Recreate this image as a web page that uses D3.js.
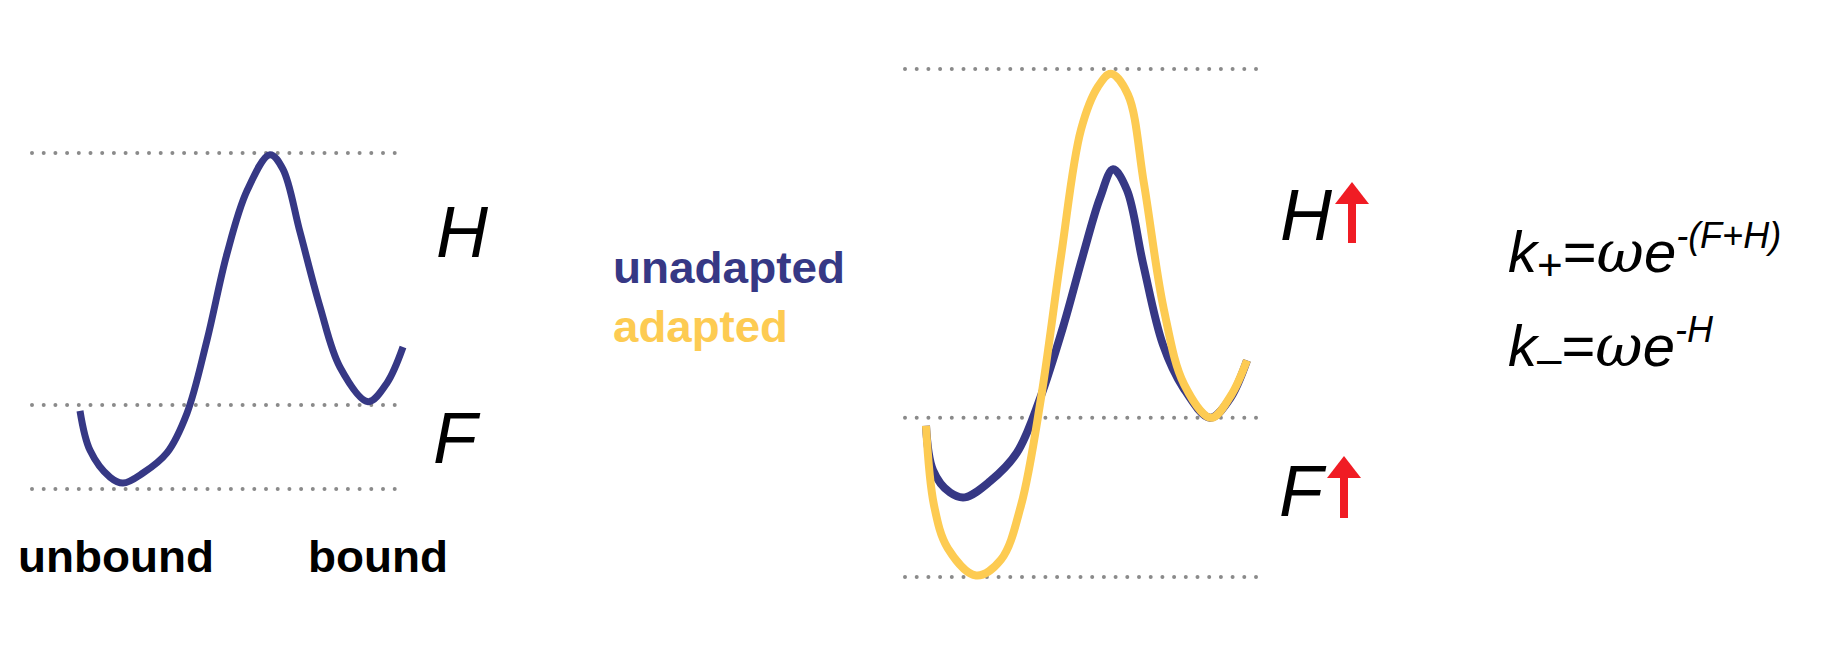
<!DOCTYPE html>
<html>
<head>
<meta charset="utf-8">
<script src="https://cdn.jsdelivr.net/npm/d3@7"></script>
<style>
  body { margin: 0; background: #fff; }
  text { font-family: "Liberation Sans", Arial, sans-serif; }
</style>
</head>
<body>
<svg id="chart" width="1836" height="646"></svg>
<script>
// reaction coordinate (0..1) and free energy
const boundX = [0, 0.031, 0.093, 0.133, 0.195, 0.269, 0.331, 0.393, 0.455, 0.517, 0.588, 0.628, 0.681, 0.743, 0.805, 0.892, 0.95, 1]
const boundE = [0.93, 0.46, 0.14, 0.07, 0.19, 0.43, 0.9, 1.77, 2.8, 3.55, 3.98, 3.81, 3.06, 2.17, 1.45, 1.04, 1.26, 1.69]

const unadaptedX = [0, 0.022, 0.075, 0.121, 0.199, 0.283, 0.355, 0.427, 0.489, 0.542, 0.583, 0.626, 0.676, 0.738, 0.801, 0.885, 0.947, 1]
const unadaptedE = [0.95, 0.67, 0.53, 0.5, 0.6, 0.78, 1.12, 1.57, 2.02, 2.38, 2.56, 2.43, 1.97, 1.46, 1.19, 1.0, 1.12, 1.36]

const adaptedX = [0, 0.025, 0.068, 0.156, 0.234, 0.296, 0.358, 0.421, 0.483, 0.536, 0.576, 0.629, 0.679, 0.741, 0.804, 0.888, 0.95, 1]
const adaptedE = [0.95, 0.45, 0.18, 0.01, 0.11, 0.45, 1.12, 2.02, 2.81, 3.08, 3.16, 3.03, 2.47, 1.68, 1.21, 1.0, 1.14, 1.36]

const leftLevels = [0, 1, 4]
const rightLevels = [0, 1, 3.19]
const legendLabels = ['unadapted', 'adapted']
const stateLabels = ['unbound', 'bound']

const BLUE = '#363885'
const YELLOW = '#fdcb52'

const svg = d3.select('#chart')

const zip = (xs, es) => xs.map((x, i) => ({ x, e: es[i] }))

const drawPanel = (opts) => {
  const { x, y, levels, lineX, curves } = opts
  svg.append('g').selectAll('line')
    .data(levels)
    .enter()
    .append('line')
    .attr('x1', lineX[0])
    .attr('x2', lineX[1])
    .attr('y1', d => y(d))
    .attr('y2', d => y(d))
    .attr('stroke', '#8a8a8a')
    .attr('stroke-width', 4)
    .attr('stroke-linecap', 'round')
    .attr('stroke-dasharray', '0 11.7')

  const line = d3.line()
    .x(d => x(d.x))
    .y(d => y(d.e))
    .curve(d3.curveCatmullRom.alpha(0.5))

  curves.forEach(c => {
    svg.append('path')
      .attr('d', line(c.data))
      .attr('fill', 'none')
      .attr('stroke', c.color)
      .attr('stroke-width', c.width)
      .attr('stroke-linejoin', 'round')
  })
}

// left panel
const xL = d3.scaleLinear().domain([0, 1]).range([80, 403])
const yL = d3.scaleLinear().domain([0, 4]).range([489, 153])
drawPanel({
  x: xL, y: yL, levels: leftLevels, lineX: [32, 396],
  curves: [{ data: zip(boundX, boundE), color: BLUE, width: 7 }],
})

// right panel
const xR = d3.scaleLinear().domain([0, 1]).range([926, 1247])
const yR = d3.scaleLinear().domain([0, 3.19]).range([577, 69])
drawPanel({
  x: xR, y: yR, levels: rightLevels, lineX: [905, 1267],
  curves: [
    { data: zip(unadaptedX, unadaptedE), color: BLUE, width: 8 },
    { data: zip(adaptedX, adaptedE), color: YELLOW, width: 8 },
  ],
})

// labels
const italic = (x, y, txt, size) => svg.append('text')
  .attr('x', x).attr('y', y)
  .attr('font-size', size)
  .attr('font-style', 'italic')
  .text(txt)

italic(436, 257, 'H', 72)
italic(433, 463, 'F', 72)
italic(1280, 240, 'H', 72)
italic(1279, 516, 'F', 72)

svg.selectAll('.state')
  .data(stateLabels)
  .enter()
  .append('text')
  .attr('class', 'state')
  .attr('x', (d, i) => i === 0 ? 18 : 308)
  .attr('y', 572)
  .attr('font-size', 44)
  .attr('font-weight', 'bold')
  .attr('textLength', (d, i) => i === 0 ? 196 : 140)
  .attr('lengthAdjust', 'spacingAndGlyphs')
  .text(d => d)

svg.selectAll('.legend')
  .data(legendLabels)
  .enter()
  .append('text')
  .attr('class', 'legend')
  .attr('x', 613)
  .attr('y', (d, i) => 283 + i * 59)
  .attr('font-size', 44)
  .attr('font-weight', 'bold')
  .attr('textLength', (d, i) => i === 0 ? 232 : 175)
  .attr('lengthAdjust', 'spacingAndGlyphs')
  .attr('fill', (d, i) => i === 0 ? BLUE : YELLOW)
  .text(d => d)

// red arrows
const arrow = (cx, top, bottom) => {
  svg.append('line')
    .attr('x1', cx).attr('x2', cx)
    .attr('y1', top + 18).attr('y2', bottom)
    .attr('stroke', '#f01c24').attr('stroke-width', 8)
  svg.append('path')
    .attr('d', `M${cx},${top} L${cx + 17},${top + 22} L${cx - 17},${top + 22} Z`)
    .attr('fill', '#f01c24')
}
arrow(1352, 182, 243)
arrow(1344, 456, 518)

// rate formulas
const formula = (y, sub, exp) => {
  const t = svg.append('text')
    .attr('x', 1508).attr('y', y)
    .attr('font-size', 58)
    .attr('font-style', 'italic')
  t.append('tspan').text('k')
  t.append('tspan').attr('font-size', 44).attr('font-style', 'normal').attr('dy', 8).text(sub)
  t.append('tspan').attr('dy', -8).attr('font-style', 'normal').text('=')
  t.append('tspan').attr('font-family', '"DejaVu Serif", serif').text('ω')
  t.append('tspan').text('e')
  t.append('tspan').attr('font-size', 36).attr('dy', -24).text(exp)
}
formula(272, '+', '-(F+H)')
formula(366, '–', '-H')
</script>
</body>
</html>
